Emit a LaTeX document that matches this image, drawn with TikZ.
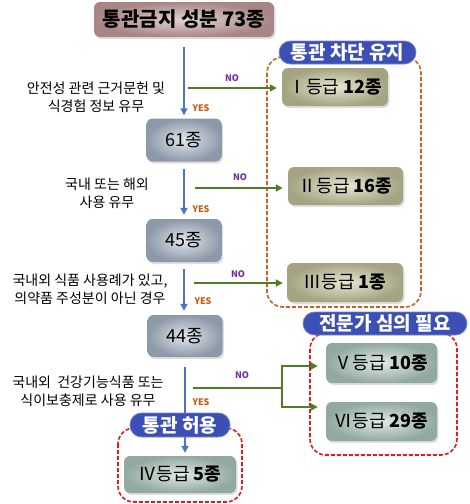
\documentclass[tikz,border=0pt]{standalone}
\usepackage{fontspec}
\setmainfont{Noto Sans CJK KR}
\usetikzlibrary{arrows.meta,shadows}
\definecolor{titleedge}{HTML}{A98585}
\definecolor{titlemid}{HTML}{E2D2D2}
\definecolor{greyedge}{HTML}{8C99A8}
\definecolor{greymid}{HTML}{E2E7EC}
\definecolor{oliveedge}{HTML}{A4A482}
\definecolor{olivemid}{HTML}{E6E6D4}
\definecolor{tealedge}{HTML}{91A99F}
\definecolor{tealmid}{HTML}{E0EAE6}
\definecolor{pillblue}{HTML}{3B4FB4}
\definecolor{orangedash}{HTML}{C8602A}
\definecolor{reddash}{HTML}{E5191F}
\definecolor{arrblue}{HTML}{4A74C8}
\definecolor{arrgreen}{HTML}{4E7D2A}
\definecolor{nopurple}{HTML}{7030A0}
\definecolor{yesorange}{HTML}{C55A11}

\begin{document}
\begin{tikzpicture}[x=1pt,y=1pt]
\tikzstyle{every node}+=[inner sep=0pt]
\tikzset{
  shade box/.style 2 args={rounded corners=6pt, shading=radial, inner color=#1, outer color=#2,
    drop shadow={opacity=0.25, shadow xshift=1.5pt, shadow yshift=-2pt}},
  titlebox/.style={shade box={titlemid}{titleedge}, font=\fontsize{20}{20}\selectfont\bfseries},
  countbox/.style={shade box={greymid}{greyedge}, minimum width=75pt, minimum height=43pt,
    font=\fontsize{18}{18}\selectfont},
  olivebox/.style={shade box={olivemid}{oliveedge}, font=\fontsize{18}{18}\selectfont},
  tealbox/.style={shade box={tealmid}{tealedge}, font=\fontsize{18}{18}\selectfont},
  pill/.style={fill=pillblue, draw=pillblue!70!white, line width=0.8pt, rounded corners=11.5pt,
    text=white, font=\fontsize{19}{19}\selectfont\bfseries},
  question/.style={align=center, font=\fontsize{14}{18}\selectfont},
  yeslbl/.style={text=yesorange, font=\fontsize{9}{9}\selectfont\bfseries},
  nolbl/.style={text=nopurple, font=\fontsize{9}{9}\selectfont\bfseries},
  yesarr/.style={draw=arrblue, line width=1.8pt, -{Triangle[length=7pt,width=7pt]},
    shorten <=7pt, shorten >=4pt},
  noarr/.style={draw=arrgreen, line width=1.8pt, -{Triangle[length=7pt,width=7pt]}},
  orangefrm/.style={draw=orangedash, line width=1.6pt, dash pattern=on 4pt off 2pt, rounded corners=16pt},
  redfrm/.style={draw=reddash, line width=1.6pt, dash pattern=on 4pt off 2pt, rounded corners=16pt}
}
\useasboundingbox (0,0) rectangle (470,-504);

% dashed frames
\draw [orangefrm] (267,-57) rectangle (421,-307);
\draw [redfrm] (310,-333) rectangle (457,-455);
\draw [redfrm] (118,-428) rectangle (242,-502);

% main column
\node [titlebox, minimum width=180pt, minimum height=35pt] (title) at (184,-19.5) {통관금지 성분 73종};
\node [countbox] (n61) at (184,-140) {61종};
\node [countbox] (n45) at (184,-240.5) {45종};
\node [countbox, minimum height=42pt] (n44) at (185,-336) {44종};

% grades
\node [olivebox, minimum width=106pt, minimum height=38pt] (g1) at (335,-87) {Ⅰ등급 \textbf{12종}};
\node [olivebox, minimum width=115pt, minimum height=38pt] (g2) at (345.5,-186) {Ⅱ등급 \textbf{16종}};
\node [olivebox, minimum width=116pt, minimum height=39pt] (g3) at (345,-282.5) {Ⅲ등급 \textbf{1종}};
\node [tealbox, minimum width=111pt, minimum height=40pt] (g5) at (381.5,-363) {Ⅴ등급 \textbf{10종}};
\node [tealbox, minimum width=111pt, minimum height=39pt] (g6) at (381.5,-421.5) {Ⅵ등급 \textbf{29종}};
\node [tealbox, minimum width=112pt, minimum height=37pt] (g4) at (180,-474.5) {Ⅳ등급 \textbf{5종}};

% questions
\node [question] (q1txt) at (96,-97) {안전성 관련 근거문헌 및\\식경험 정보 유무};
\node [question] (q2txt) at (107,-193.5) {국내 또는 해외\\사용 유무};
\node [question] (q3txt) at (90,-289.5) {국내외 식품 사용례가 있고,\\의약품 주성분이 아닌 경우};
\node [question] (q4txt) at (88,-391) {국내외\ \ 건강기능식품 또는\\식이보충제로 사용 유무};

% yes arrows
\draw [yesarr, shorten <=10pt, shorten >=3pt] (title.south) -- (title.south |- n61.north);
\draw [yesarr] (n61.south) -- (n61.south |- n45.north);
\draw [yesarr] (n45.south) -- (n45.south |- n44.north);
\draw [yesarr, shorten <=10pt, shorten >=3pt] (n44.south) -- (n44.south |- g4.north);
\node [yeslbl] (y1) at (201,-108) {YES};
\node [yeslbl] (y2) at (201,-209) {YES};
\node [yeslbl] (y3) at (203,-301) {YES};
\node [yeslbl] (y4) at (201,-402) {YES};

% no arrows
\coordinate (q1) at (188,-88);
\coordinate (q2) at (195,-188);
\coordinate (q3) at (194,-283);
\coordinate (q4) at (193,-388);
\coordinate (fork) at (282,-388);
\draw [noarr, shorten >=5pt] (q1) -- (q1 -| g1.west);
\draw [noarr, shorten >=5pt] (q2) -- (q2 -| g2.west);
\draw [noarr, shorten >=4pt] (q3) -- (q3 -| g3.west);
\draw [draw=arrgreen, line width=1.8pt] (q4) -- (fork);
\draw [noarr, shorten >=8pt] (fork) |- ([yshift=-3pt]g5.west);
\draw [noarr, shorten >=8pt] (fork) |- ([yshift=14.5pt]g6.west);
\node [nolbl] (no1) at (232,-78) {NO};
\node [nolbl] (no2) at (240,-177) {NO};
\node [nolbl] (no3) at (238,-274) {NO};
\node [nolbl] (no4) at (242,-375) {NO};

% group labels
\node [pill, minimum width=137pt, minimum height=23pt] (keep) at (347.5,-52.5) {통관 차단 유지};
\node [pill, minimum width=164pt, minimum height=23pt] (review) at (385,-323.5) {전문가 심의 필요};
\node [pill, minimum width=100pt, minimum height=24pt] (allow) at (180,-425) {통관 허용};
\end{tikzpicture}
\end{document}
